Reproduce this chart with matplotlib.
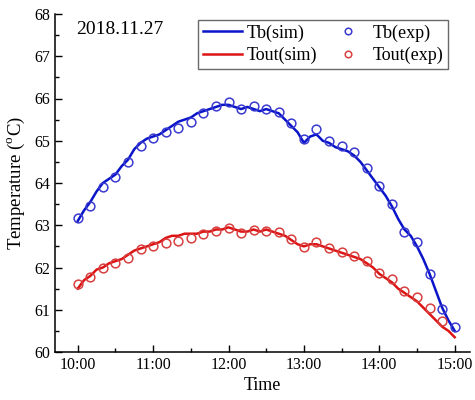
import numpy as np
import matplotlib
matplotlib.use("Agg")
import matplotlib.pyplot as plt
from matplotlib.ticker import MultipleLocator, FixedLocator

plt.rcParams['font.family'] = ['Liberation Serif', 'DejaVu Serif']
plt.rcParams['mathtext.fontset'] = 'custom'
plt.rcParams['mathtext.rm'] = 'Liberation Serif'

# experimental samples, every 10 min from 10:00
exp_hours = 10 + np.arange(0, 301, 10) / 60.0
tb_exp = [63.18, 63.46, 63.90, 64.15, 64.50, 64.88, 65.06, 65.20, 65.29, 65.45,
          65.65, 65.82, 65.91, 65.74, 65.83, 65.75, 65.69, 65.43, 65.03, 65.27,
          64.99, 64.88, 64.74, 64.36, 63.93, 63.50, 62.85, 62.60, 61.84, 61.02,
          60.58]
# outlet temperature: no visible sample at 15:00
tout_exp = [61.61, 61.77, 62.00, 62.10, 62.23, 62.44, 62.52, 62.59, 62.63, 62.71,
            62.79, 62.87, 62.93, 62.82, 62.89, 62.86, 62.85, 62.67, 62.49, 62.61,
            62.47, 62.37, 62.28, 62.15, 61.88, 61.72, 61.44, 61.31, 61.03, 60.74]

# simulated curves, every 5 min from 10:00
sim_hours = 10 + np.arange(0, 301, 5) / 60.0
tb_sim = [63.10, 63.35, 63.55, 63.80, 64.00, 64.10, 64.20, 64.40, 64.55, 64.80,
          64.95, 65.05, 65.10, 65.15, 65.25, 65.35, 65.45, 65.50, 65.55, 65.65,
          65.70, 65.75, 65.80, 65.85, 65.85, 65.80, 65.75, 65.80, 65.75, 65.70,
          65.75, 65.70, 65.65, 65.50, 65.35, 65.20, 64.95, 65.10, 65.15, 65.00,
          64.95, 64.85, 64.80, 64.75, 64.65, 64.50, 64.30, 64.10, 63.90, 63.70,
          63.45, 63.15, 62.90, 62.75, 62.50, 62.20, 61.85, 61.45, 61.05, 60.75,
          60.50]
tout_sim = [61.50, 61.70, 61.80, 61.95, 62.00, 62.10, 62.15, 62.20, 62.30, 62.40,
            62.45, 62.50, 62.55, 62.60, 62.70, 62.75, 62.75, 62.80, 62.80, 62.80,
            62.85, 62.85, 62.90, 62.90, 62.95, 62.90, 62.85, 62.85, 62.90, 62.85,
            62.90, 62.85, 62.80, 62.75, 62.65, 62.55, 62.50, 62.55, 62.55, 62.50,
            62.45, 62.40, 62.35, 62.30, 62.25, 62.20, 62.10, 62.00, 61.85, 61.75,
            61.65, 61.50, 61.40, 61.30, 61.20, 61.05, 60.90, 60.75, 60.60, 60.50,
            60.35]

tick_hours = [10, 11, 12, 13, 14, 15]
tick_labels = ['10:00', '11:00', '12:00', '13:00', '14:00', '15:00']

blue = '#0a14c8'
red = '#dc1414'

fig = plt.figure(figsize=(4.75, 4.0), dpi=100)
ax = fig.add_axes([0.116, 0.12, 0.873, 0.845])

l1, = ax.plot(sim_hours, tb_sim, color=blue, lw=1.8)
l2, = ax.plot(sim_hours, tout_sim, color=red, lw=1.8)
p1, = ax.plot(exp_hours, tb_exp, 'o', mfc='none', mec='#3a3ad0', mew=1.1, ms=6.3)
p2, = ax.plot(exp_hours[:len(tout_exp)], tout_exp, 'o', mfc='none', mec='#d84040',
              mew=1.1, ms=6.3)

ax.set_xlim(9.7, 15.2)
ax.set_ylim(60, 68)
ax.xaxis.set_major_locator(FixedLocator(tick_hours))
ax.set_xticklabels(tick_labels)
ax.xaxis.set_minor_locator(MultipleLocator(0.5))
ax.yaxis.set_major_locator(MultipleLocator(1))
ax.yaxis.set_minor_locator(MultipleLocator(0.5))
ax.tick_params(which='both', direction='in', labelsize=11.5, width=1)
ax.tick_params(which='major', length=5)
ax.tick_params(which='minor', length=3)
for s in ['top', 'right']:
    ax.spines[s].set_visible(False)
for s in ['left', 'bottom']:
    ax.spines[s].set_linewidth(1.1)

ax.set_xlabel('Time', fontsize=13, labelpad=3)
ax.set_ylabel('Temperature ($^{\\rm o}$C)', fontsize=13.5, labelpad=5)

ax.text(0.05, 0.955, '2018.11.27', transform=ax.transAxes, fontsize=14,
        va='center', ha='left')

leg = ax.legend([l1, l2, p1, p2], ['Tb(sim)', 'Tout(sim)', 'Tb(exp)', 'Tout(exp)'],
                ncol=2, loc='upper left', bbox_to_anchor=(0.345, 0.983),
                fontsize=13, frameon=True, fancybox=False, numpoints=1,
                handlelength=2.2, handletextpad=0.25, columnspacing=0.6,
                labelspacing=0.3, borderpad=0.25, markerscale=0.75,
                borderaxespad=0)
leg.get_frame().set_edgecolor('#444444')
leg.get_frame().set_linewidth(1.0)

fig.savefig('out.png', dpi=100)
